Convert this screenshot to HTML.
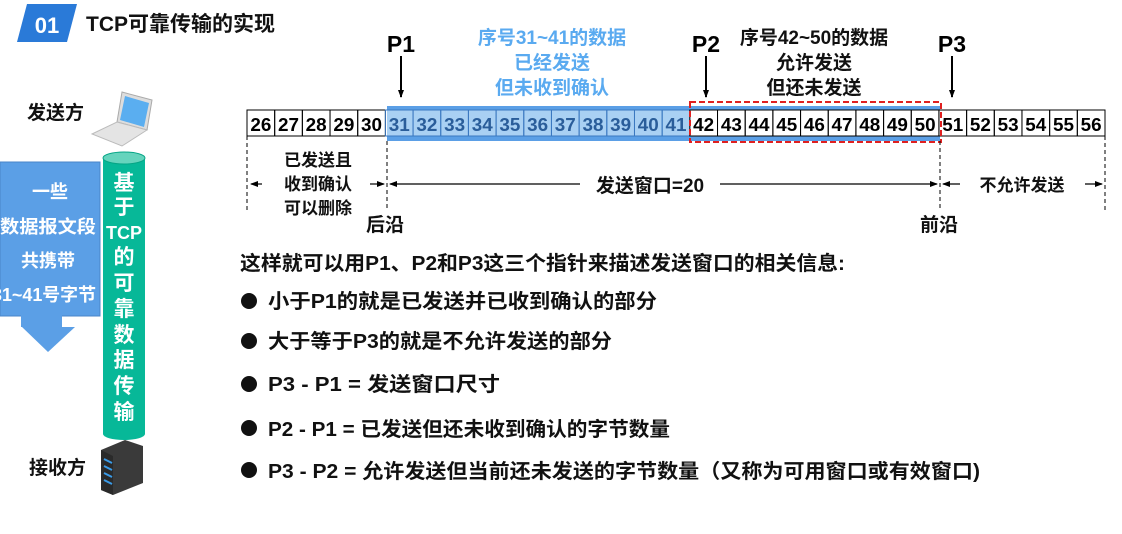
<!DOCTYPE html>
<html><head><meta charset="utf-8"><style>
body{margin:0;background:#fff;}
svg text{font-family:"Liberation Sans","Noto Sans CJK SC",sans-serif;font-weight:bold;}
</style></head><body>
<svg width="1122" height="529" viewBox="0 0 1122 529" xmlns="http://www.w3.org/2000/svg">
<defs>
<marker id="ah" markerWidth="8" markerHeight="8" refX="7" refY="4" orient="auto" markerUnits="userSpaceOnUse"><path d="M0,1 L8,4 L0,7 Z" fill="#000"/></marker>
</defs>
<!-- header -->
<polygon points="27,4 77,4 67,42 17,42" fill="#2a7ad8"/>
<text x="47" y="33" font-size="22" fill="#fff" text-anchor="middle">01</text>
<text x="86" y="31" font-size="21" fill="#111">TCP可靠传输的实现</text>

<!-- left side -->
<text x="27" y="119" font-size="19" fill="#111">发送方</text>
<g transform="translate(92,90)">
<polygon points="30,2 60,10 55,40 25,32" fill="#ddd" stroke="#aaa"/>
<polygon points="33,6 57,13 52,37 28,30" fill="#5aaef0"/>
<polygon points="0,44 25,32 55,40 30,56" fill="#e4e4e4" stroke="#bbb"/>
</g>
<rect x="0" y="162" width="100" height="154" fill="#5b9fe6" stroke="#4a86c8"/>
<rect x="21" y="315" width="41" height="12" fill="#5b9fe6"/>
<polygon points="22,327 75,327 48,352" fill="#5b9fe6"/>
<g font-size="18" fill="#fff" text-anchor="middle">
<text x="50" y="198">一些</text>
<text x="48" y="233" textLength="96" lengthAdjust="spacingAndGlyphs">数据报文段</text>
<text x="48" y="267">共携带</text>
<text x="44" y="301" textLength="104" lengthAdjust="spacingAndGlyphs">31~41号字节</text>
</g>
<rect x="103" y="158" width="42" height="276" fill="#07b898"/>
<ellipse cx="124" cy="158" rx="21" ry="6" fill="#66d4bd" stroke="#06a586"/>
<ellipse cx="124" cy="434" rx="21" ry="6" fill="#07b898"/>
<g font-size="21" fill="#fff" text-anchor="middle">
<text x="124" y="190">基</text><text x="124" y="214">于</text>
<text x="124" y="239" font-size="18">TCP</text>
<text x="124" y="264">的</text><text x="124" y="290">可</text>
<text x="124" y="316">靠</text><text x="124" y="342">数</text>
<text x="124" y="367">据</text><text x="124" y="393">传</text>
<text x="124" y="419">输</text>
</g>
<polygon points="101,450 125,440 143,446 143,483 113,495 101,490" fill="#3a3a3a"/>
<polygon points="101,450 113,456 113,495 101,490" fill="#2a2a2a"/>
<g stroke="#3a9be8" stroke-width="2"><line x1="104" y1="459" x2="112" y2="463"/><line x1="104" y1="466" x2="112" y2="470"/><line x1="104" y1="473" x2="112" y2="477"/><line x1="104" y1="480" x2="112" y2="484"/></g>
<text x="29" y="474" font-size="19" fill="#111">接收方</text>

<!-- cells -->
<rect x="387" y="106" width="553" height="35" fill="#5b9fe6"/>
<rect x="387" y="110" width="303" height="26" fill="#a9d0f3"/>
<rect x="690" y="110" width="250" height="26" fill="#fff"/>
<rect x="247" y="110" width="140" height="26" fill="#fff"/>
<rect x="940" y="110" width="165" height="26" fill="#fff"/>
<g id="cells" font-size="18" text-anchor="middle"></g>
<rect x="690" y="102" width="251" height="40" fill="none" stroke="#e02020" stroke-width="2" stroke-dasharray="6,3"/>

<!-- pointers -->
<g font-size="23" fill="#000" text-anchor="middle">
<text x="401" y="52">P1</text><text x="706" y="52">P2</text><text x="952" y="52">P3</text>
</g>
<g stroke="#000" stroke-width="2" marker-end="url(#ah)">
<line x1="401" y1="56" x2="401" y2="97"/>
<line x1="706" y1="56" x2="706" y2="97"/>
<line x1="952" y1="56" x2="952" y2="97"/>
</g>
<g font-size="19" fill="#5aaaf0" text-anchor="middle">
<text x="552" y="44">序号31~41的数据</text><text x="552" y="69">已经发送</text><text x="552" y="94">但未收到确认</text>
</g>
<g font-size="19" fill="#111" text-anchor="middle">
<text x="814" y="44">序号42~50的数据</text><text x="814" y="69">允许发送</text><text x="814" y="94">但还未发送</text>
</g>

<!-- dashed verticals -->
<g stroke="#000" stroke-width="1" stroke-dasharray="4,3">
<line x1="247" y1="136" x2="247" y2="210"/><line x1="387" y1="141" x2="387" y2="210"/>
<line x1="940" y1="141" x2="940" y2="210"/><line x1="1105" y1="136" x2="1105" y2="210"/>
</g>
<g stroke="#000" stroke-width="1.2">
<line x1="262" y1="184" x2="251" y2="184" marker-end="url(#ah)"/>
<line x1="370" y1="184" x2="384" y2="184" marker-end="url(#ah)"/>
<line x1="580" y1="184" x2="390" y2="184" marker-end="url(#ah)"/>
<line x1="720" y1="184" x2="937" y2="184" marker-end="url(#ah)"/>
<line x1="960" y1="184" x2="943" y2="184" marker-end="url(#ah)"/>
<line x1="1085" y1="184" x2="1102" y2="184" marker-end="url(#ah)"/>
</g>
<g font-size="17" fill="#111" text-anchor="middle">
<text x="318" y="166">已发送且</text><text x="318" y="190">收到确认</text><text x="318" y="214">可以删除</text>
<text x="650" y="192" font-size="19">发送窗口=20</text>
<text x="1022" y="191">不允许发送</text>
</g>
<g font-size="19" fill="#111" text-anchor="middle">
<text x="385" y="231">后沿</text><text x="939" y="231">前沿</text>
</g>

<!-- bullets -->
<g fill="#111">
<circle cx="249" cy="301" r="8"/><circle cx="249" cy="341" r="8"/><circle cx="249" cy="384" r="8"/><circle cx="249" cy="428" r="8"/><circle cx="249" cy="470" r="8"/>
</g>
<g font-size="20" fill="#111" lengthAdjust="spacingAndGlyphs">
<text x="240" y="270" textLength="605" lengthAdjust="spacingAndGlyphs">这样就可以用P1、P2和P3这三个指针来描述发送窗口的相关信息:</text>
<text x="268" y="308" textLength="389" lengthAdjust="spacingAndGlyphs">小于P1的就是已发送并已收到确认的部分</text>
<text x="268" y="348" textLength="344" lengthAdjust="spacingAndGlyphs">大于等于P3的就是不允许发送的部分</text>
<text x="268" y="391" textLength="232" lengthAdjust="spacingAndGlyphs">P3 - P1 = 发送窗口尺寸</text>
<text x="268" y="436" textLength="402" lengthAdjust="spacingAndGlyphs">P2 - P1 = 已发送但还未收到确认的字节数量</text>
<text x="268" y="478" textLength="712" lengthAdjust="spacingAndGlyphs">P3 - P2 = 允许发送但当前还未发送的字节数量（又称为可用窗口或有效窗口)</text>
</g>
</svg>
<script>
var g=document.getElementById('cells'),ns='http://www.w3.org/2000/svg',w=(1105-247)/31;
for(var i=0;i<31;i++){var n=26+i,x=247+i*w;
var r=document.createElementNS(ns,'rect');r.setAttribute('x',x);r.setAttribute('y',110);r.setAttribute('width',w);r.setAttribute('height',26);r.setAttribute('fill','none');r.setAttribute('stroke',(n>=31&&n<=41)?'#3a78c0':'#000');r.setAttribute('stroke-width','1');g.appendChild(r);
var t=document.createElementNS(ns,'text');t.setAttribute('x',x+w/2);t.setAttribute('y',131);t.setAttribute('fill',(n>=31&&n<=41)?'#2a5d9a':'#000');t.setAttribute('textLength','21');t.setAttribute('lengthAdjust','spacingAndGlyphs');t.textContent=n;g.appendChild(t);}
</script>
</body></html>
